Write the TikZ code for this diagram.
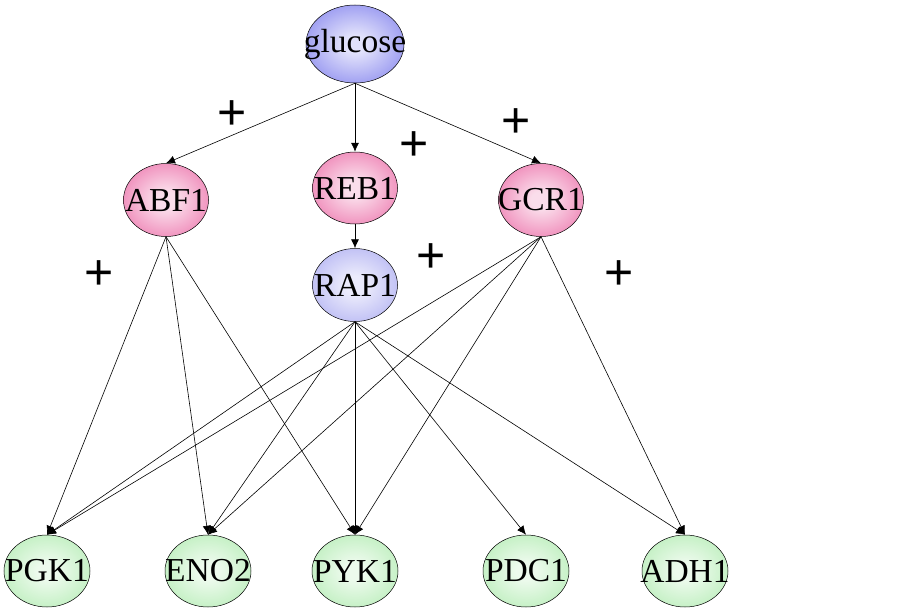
\documentclass[tikz,border=0pt]{standalone}
\usepackage{fontspec}
\setmainfont{Liberation Serif}
\newfontfamily\plusfont{Liberation Sans}
\usetikzlibrary{shapes.geometric,arrows.meta}
\definecolor{glcblue}{RGB}{118,118,236}
\definecolor{tfpink}{RGB}{234,100,162}
\definecolor{raplav}{RGB}{166,166,240}
\definecolor{tgtgreen}{RGB}{172,234,172}
\pgfdeclareradialshading[ndinner,ndouter]{ndglow}{\pgfpoint{0bp}{0bp}}{color(0bp)=(ndinner); color(6bp)=(ndinner); color(38bp)=(ndouter); color(50bp)=(ndouter)}
\begin{document}
\begin{tikzpicture}[x=1pt, y=-1pt,
 nd/.style={draw, ellipse, inner sep=0pt, minimum width=85pt, minimum height=73pt, /utils/exec={\colorlet{ndinner}{white!78!#1}\colorlet{ndouter}{#1}}, shading=ndglow, shade, line width=0.5pt},
 every label/.style={inner sep=0pt, font=\fontsize{33.5}{33.5}\selectfont},
 edge/.style={-{Latex[length=9pt,width=8pt]}, line width=0.6pt},
 pl/.style={inner sep=0pt, font=\plusfont\fontsize{50}{50}\selectfont}]
\useasboundingbox (0,0) rectangle (913,610);
\node[nd=glcblue, minimum width=98pt, minimum height=78pt, label=center:glucose] (glucose) at (355,44) {};
\node[nd=tfpink, label=center:ABF1] (ABF1) at (166,200) {};
\node[nd=tfpink, minimum height=72pt, label=center:REB1] (REB1) at (355,188) {};
\node[nd=tfpink, label=center:GCR1] (GCR1) at (541,200) {};
\node[nd=raplav, label=center:RAP1] (RAP1) at (355,285) {};
\foreach \n/\x in {PGK1/47,ENO2/208,PYK1/355,PDC1/526,ADH1/685}{\node[nd=tgtgreen, minimum width=86pt, minimum height=72pt, label=center:\n] (\n) at (\x,571) {};}
\foreach \t in {ABF1,REB1,GCR1}{\draw[edge] (glucose.south) -- (\t.north);}
\draw[edge] (REB1.south) -- (RAP1.north);
\foreach \t in {PGK1,ENO2,PYK1}{\draw[edge] (ABF1.south) -- (\t.north);}
\foreach \t in {PGK1,ENO2,PYK1,PDC1,ADH1}{\draw[edge] (RAP1.south) -- (\t.north);}
\foreach \t in {PGK1,ENO2,PYK1,ADH1}{\draw[edge] (GCR1.south) -- (\t.north);}
\foreach \x/\y [count=\i] in {232/115,414/146,516/123,99/275,431/258,619/275}{\node[pl] (p\i) at (\x,\y) {+};}
\end{tikzpicture}
\end{document}
